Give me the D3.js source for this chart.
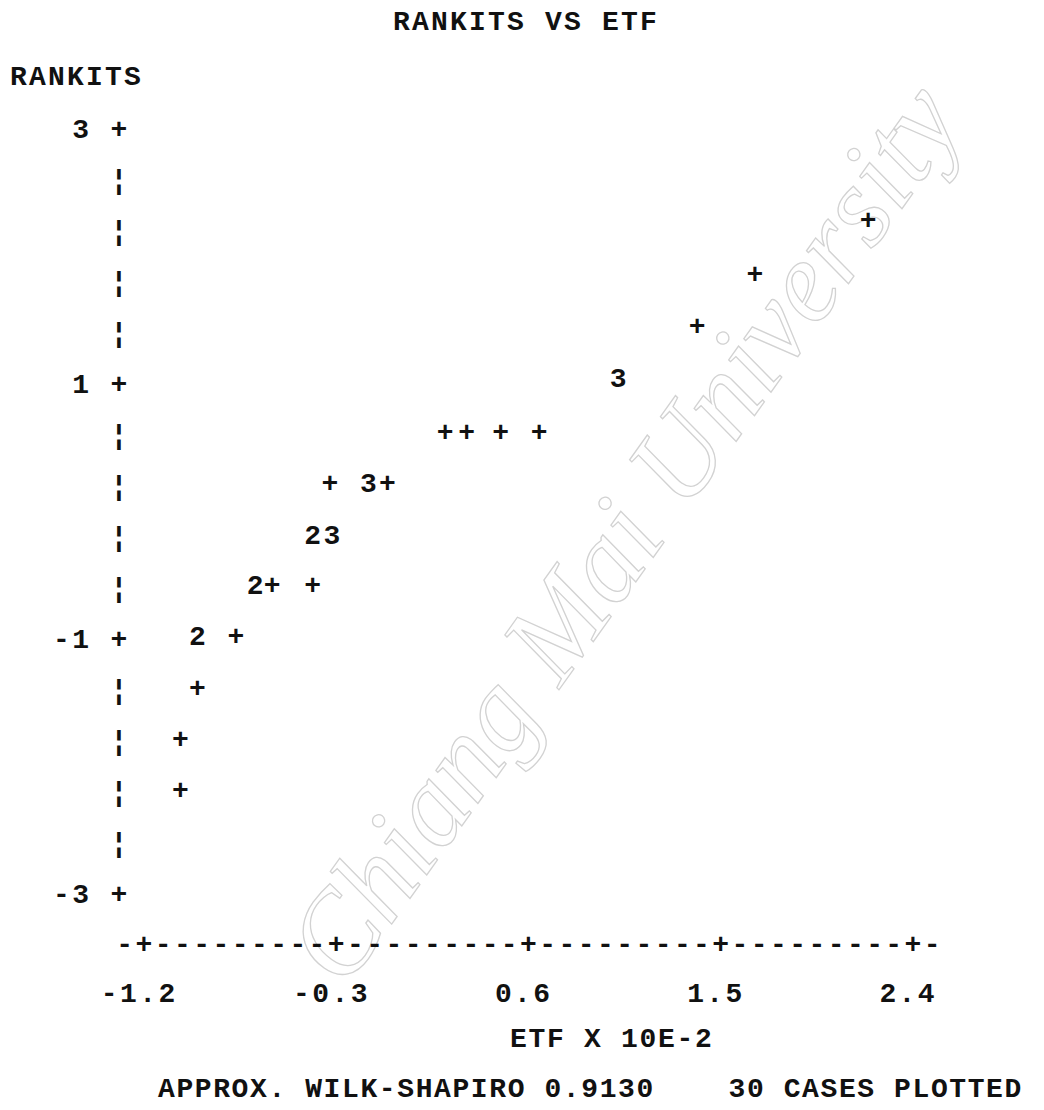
<!DOCTYPE html>
<html>
<head>
<meta charset="utf-8">
<script src="https://cdn.jsdelivr.net/npm/d3@7"></script>
<style>
  html, body { margin: 0; padding: 0; background: #fff; }
  svg { display: block; }
  text { font-family: "Liberation Mono", "DejaVu Sans Mono", monospace; font-weight: bold; fill: #111; }
</style>
</head>
<body>
<svg id="chart" width="1044" height="1110"></svg>
<script>
// ---- data ----
const etf = [
  2.19, 1.66, 1.39, 1.02, 1.02, 1.02,
  0.21, 0.31, 0.47, 0.65,
  -0.33, -0.15, -0.15, -0.15, -0.06,
  -0.41, -0.41, -0.32, -0.32, -0.32,
  -0.68, -0.68, -0.60, -0.41,
  -0.95, -0.95, -0.77,
  -0.95, -1.03, -1.03
];
const rankits = [
  2.28, 1.86, 1.45, 1.04, 1.04, 1.04,
  0.62, 0.62, 0.62, 0.62,
  0.22, 0.22, 0.22, 0.22, 0.22,
  -0.19, -0.19, -0.19, -0.19, -0.19,
  -0.58, -0.58, -0.58, -0.58,
  -0.98, -0.98, -0.98,
  -1.39, -1.79, -2.19
];
const xTickValues = [-1.2, -0.3, 0.6, 1.5, 2.4];
const xTickLabels = ["-1.2", "-0.3", "0.6", "1.5", "2.4"];
const yTickValues = [3, 1, -1, -3];
const yTickLabels = ["3", "1", "-1", "-3"];
const titleText = "RANKITS VS ETF";
const yTitle = "RANKITS";
const xTitle = "ETF X 10E-2";
const footText = "APPROX. WILK-SHAPIRO 0.9130    30 CASES PLOTTED";

// ---- layout ----
const svg = d3.select("#chart");
const FS = 28;           // font size
const PITCH = 19.2;      // typewriter pitch
const LS = PITCH - 0.6 * FS; // letter spacing for mono font
const GLYPH_DY = 9.5;    // baseline offset to center glyphs on a row

const x = d3.scaleLinear().domain([-1.2, 2.4]).range([144, 913]);
const y = d3.scaleLinear().domain([-3, 3]).range([893, 128]);
const axisX = 119;
const axisY = 943;
const colStep = 0.09;
const rowStep = 0.4;

// watermark (faint outline, as on the scanned page)
svg.append("text")
  .attr("transform", "translate(655,555) rotate(-54.5)")
  .attr("text-anchor", "middle")
  .style("font-family", "'Liberation Serif', serif")
  .style("font-style", "italic")
  .style("font-weight", "normal")
  .style("font-size", "116px")
  .style("fill", "none")
  .style("stroke", "#d2d2d2")
  .style("stroke-width", 1.3)
  .text("Chiang Mai University");

// title
svg.append("text")
  .attr("x", 393).attr("y", 30)
  .style("font-size", FS + "px")
  .style("letter-spacing", (19 - 0.6 * FS) + "px")
  .text(titleText);

// y axis title
svg.append("text")
  .attr("x", 10).attr("y", 85)
  .style("font-size", FS + "px")
  .style("letter-spacing", (19 - 0.6 * FS) + "px")
  .text(yTitle);

// y axis: column of typed characters
const yRows = d3.range(0, 16).map(i => 3 - i * rowStep);
svg.append("g").selectAll("text")
  .data(yRows)
  .join("text")
  .attr("x", axisX)
  .attr("y", d => y(d) + GLYPH_DY)
  .attr("text-anchor", "middle")
  .style("font-size", FS + "px")
  .text((d, i) => i % 5 === 0 ? "+" : "\u00A6");

// y tick labels
svg.append("g").selectAll("text")
  .data(yTickValues)
  .join("text")
  .attr("x", (d, i) => axisX - 2 * PITCH - 0.3 * FS - (yTickLabels[i].length - 1) * PITCH)
  .attr("y", d => y(d) + GLYPH_DY)
  .style("font-size", FS + "px")
  .style("letter-spacing", LS + "px")
  .text((d, i) => yTickLabels[i]);

// x axis: row of typed characters
const xCols = d3.range(-1, 42).map(i => ({ i, v: -1.2 + i * colStep }));
svg.append("g").selectAll("text")
  .data(xCols)
  .join("text")
  .attr("x", d => x(d.v))
  .attr("y", axisY + GLYPH_DY)
  .attr("text-anchor", "middle")
  .style("font-size", FS + "px")
  .text(d => (d.i >= 0 && d.i <= 40 && d.i % 10 === 0) ? "+" : "-");

// x tick labels
svg.append("g").selectAll("text")
  .data(xTickValues)
  .join("text")
  .attr("x", d => x(d) - 6 + LS / 2)
  .attr("y", 1002)
  .attr("text-anchor", "middle")
  .style("font-size", FS + "px")
  .style("letter-spacing", LS + "px")
  .text((d, i) => xTickLabels[i]);

// x axis title
svg.append("text")
  .attr("x", 510).attr("y", 1047)
  .style("font-size", FS + "px")
  .style("letter-spacing", (18.5 - 0.6 * FS) + "px")
  .text(xTitle);

// footer
svg.append("text")
  .attr("x", 158).attr("y", 1097)
  .style("font-size", FS + "px")
  .style("letter-spacing", (18.4 - 0.6 * FS) + "px")
  .style("white-space", "pre")
  .attr("xml:space", "preserve")
  .text(footText);

// points: cases sharing a print cell are shown as a count
const cases = etf.map((e, i) => ({ x: e, y: rankits[i] }));
const cells = d3.rollups(cases, v => v.length, d => d.x + "|" + d.y)
  .map(([key, n]) => {
    const [cx, cy] = key.split("|").map(Number);
    return { x: cx, y: cy, n };
  });
svg.append("g").selectAll("text")
  .data(cells)
  .join("text")
  .attr("x", d => x(d.x))
  .attr("y", d => y(d.y) + GLYPH_DY)
  .attr("text-anchor", "middle")
  .style("font-size", FS + "px")
  .text(d => d.n === 1 ? "+" : String(d.n));
</script>
</body>
</html>
